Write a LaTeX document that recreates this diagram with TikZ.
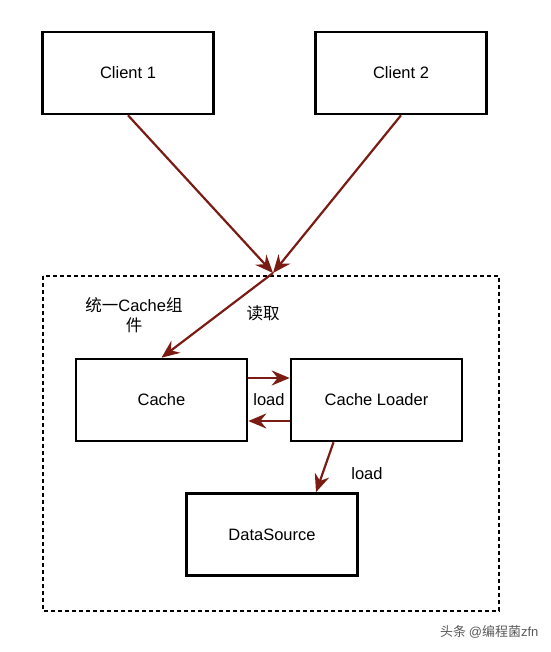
\documentclass[tikz,border=0pt]{standalone}
\usepackage{fontspec}
\setmainfont{Liberation Sans}
\newfontfamily\cjk{Noto Sans CJK SC}
\usetikzlibrary{arrows.meta,positioning,calc}
\definecolor{linkred}{HTML}{7A1C14}
\tikzset{
    block/.style = {draw, rectangle, line width=2.6pt,
        minimum height=82pt,
        minimum width=171pt, align=center, font=\fontsize{16.5}{20}\selectfont},
    frame/.style = {draw, dashed, line width=1.3pt, dash pattern=on 4pt off 3pt},
    arrow/.style = {draw=linkred, line width=2.2pt, -{Stealth[length=18pt,width=15pt,inset=6pt]}},
    label/.style = {font=\fontsize{16.5}{20}\selectfont, align=center}
}

\begin{document}
\begin{tikzpicture}[x=1pt, y=-1pt]
        \useasboundingbox (0,0) rectangle (550,652);
        \draw[frame] (43,276) rectangle (499,611);
        \node [block] (client1) at (128,73) {Client 1};
        \node [block] (client2) at (401,73) {Client 2};
        \node [block] (cache) at (161.5,400) {Cache};
        \node [block] (loader) at (376.5,400) {Cache Loader};
        \node [block] (source) at (272,534.5) {DataSource};
        \coordinate (join) at (273,273);
        \draw[arrow] (client1.south) -- (join);
        \draw[arrow] (client2.south) -- (join);
        \draw[arrow] (join) -- (cache.north);
        \draw[arrow] ([yshift=22pt]cache.east) -- ([yshift=22pt]loader.west);
        \draw[arrow] ([yshift=-21pt]loader.west) -- ([yshift=-21pt]cache.east);
        \draw[arrow] ([xshift=-43pt]loader.south) -- ([xshift=44pt]source.north);
        \node [label] (group) at (134,315) {{\cjk 统一}Cache{\cjk 组}\\{\cjk 件}};
        \node [label] (read) at (263,313) {\cjk 读取};
        \node [label] (load1) at (269,400) {load};
        \node [label] (load2) at (367,474) {load};
        \node [anchor=east, text=black!65, font=\fontsize{13}{15}\selectfont] (mark) at (542,632) {{\cjk 头条 }@{\cjk 编程菌}zfn};
\end{tikzpicture}
\end{document}
